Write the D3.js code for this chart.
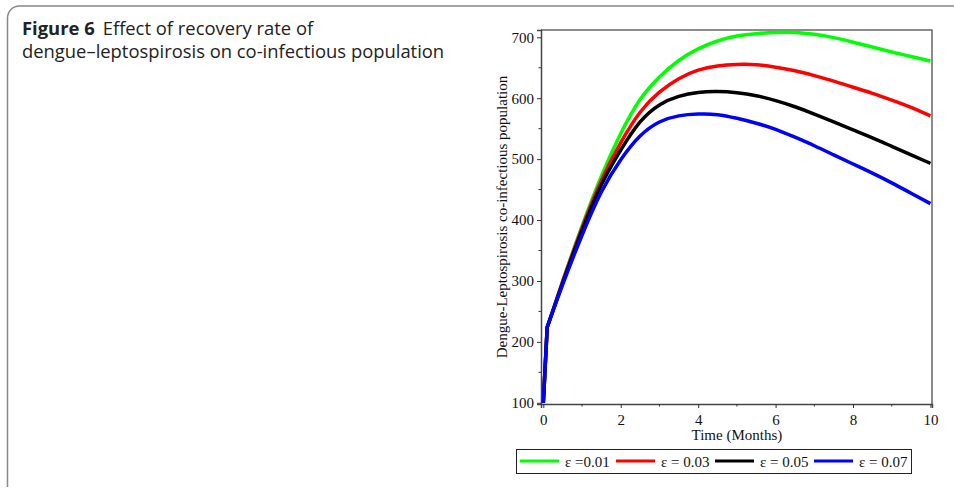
<!DOCTYPE html>
<html>
<head>
<meta charset="utf-8">
<script src="https://cdn.jsdelivr.net/npm/d3@7"></script>
<style>
  body { margin: 0; background: #fff; }
  svg { display: block; }
  .tick text { font-family: "Liberation Serif", "Times New Roman", serif; font-size: 15px; fill: #111; }
  .axisTitle { font-family: "Liberation Serif", "Times New Roman", serif; font-size: 15px; fill: #111; }
  .legendText { font-family: "Liberation Serif", "Times New Roman", serif; font-size: 15px; fill: #111; }
  .caption { font-family: "Open Sans", "Noto Sans", sans-serif; font-size: 18.4px; fill: #222; }
</style>
</head>
<body>
<script>
// time in months
var months = [0, 0.1, 0.5, 1, 1.5, 2, 2.5, 3, 3.5, 4, 4.5, 5, 5.5, 6, 6.5, 7, 7.5, 8, 8.5, 9, 9.5, 10];

// co-infectious population for each recovery rate
var eps001 = [100, 224, 300, 390, 472, 542, 598, 635, 662, 681, 694, 702, 706, 708, 708, 705, 699.5, 692, 684, 676, 668.5, 661];
var eps003 = [100, 224, 299, 387, 465, 527, 577, 610, 632, 646, 653, 655.5, 655, 651, 645, 637, 628, 618, 608, 597, 585, 571];
var eps005 = [100, 224, 297, 383, 458, 515, 561, 589, 603, 609.5, 611, 609, 604, 596, 586, 574, 561, 548, 535, 521, 507, 493];
var eps007 = [100, 224, 294, 375, 446, 499, 538, 561, 571, 574, 573, 567, 559, 549, 536, 522, 507, 492, 477, 461, 444, 427];

var seriesNames = ["\u03b5 =0.01", "\u03b5 = 0.03", "\u03b5 = 0.05", "\u03b5 = 0.07"];
var seriesValues = [eps001, eps003, eps005, eps007];
var seriesColors = ["#00ff00", "#ff0000", "#000000", "#0000ff"];

var xTicks = [0, 2, 4, 6, 8, 10];
var xMinor = [1, 3, 5, 7, 9];
var yTicks = [100, 200, 300, 400, 500, 600, 700];
var yMinor = [150, 250, 350, 450, 550, 650];

var width = 954, height = 490;
var plot = {left: 541, right: 932, top: 30, bottom: 404};

var svg = d3.select("body").append("svg")
    .attr("width", width).attr("height", height);

// outer caption frame
svg.append("path")
    .attr("d", "M7.5,487 L7.5,18 A12,12 0 0 1 19.5,6 L954,6")
    .attr("fill", "none")
    .attr("stroke", "#888")
    .attr("stroke-width", 1.5);

// caption
var cap1 = svg.append("text").attr("class", "caption").attr("x", 22).attr("y", 34.5);
cap1.append("tspan").attr("font-weight", "bold").text("Figure 6");
cap1.append("tspan").attr("dx", 8).text("Effect of recovery rate of");
svg.append("text").attr("class", "caption").attr("x", 22).attr("y", 57.5)
    .text("dengue\u2013leptospirosis on co-infectious population");

var x = d3.scaleLinear()
    .domain([-0.06, 10.04])
    .range([plot.left, plot.right]);

var y = d3.scaleLinear()
    .domain([98, 712])
    .range([plot.bottom, plot.top]);

// frame top and right
svg.append("path")
    .attr("d", "M" + plot.left + "," + plot.top + "H" + plot.right + "V" + plot.bottom)
    .attr("fill", "none")
    .attr("stroke", "#666")
    .attr("stroke-width", 1.5);

var xAxis = d3.axisBottom(x).tickValues(xTicks).tickSize(4).tickPadding(6).tickFormat(d3.format("d"));
var yAxis = d3.axisLeft(y).tickValues(yTicks).tickSize(4).tickPadding(3).tickFormat(d3.format("d"));

var gx = svg.append("g").attr("class", "x axis")
    .attr("transform", "translate(0," + plot.bottom + ")")
    .call(xAxis);
var gy = svg.append("g").attr("class", "y axis")
    .attr("transform", "translate(" + plot.left + ",0)")
    .call(yAxis);

[gx, gy].forEach(function(g){
    g.select(".domain").attr("stroke", "#444").attr("stroke-width", 1.5);
    g.selectAll(".tick line").attr("stroke", "#333");
});

// minor ticks
gx.selectAll(".minor").data(xMinor).enter().append("line")
    .attr("class", "minor")
    .attr("x1", function(d){ return x(d); }).attr("x2", function(d){ return x(d); })
    .attr("y1", 0).attr("y2", 2.5)
    .attr("stroke", "#333");
gy.selectAll(".minor").data(yMinor).enter().append("line")
    .attr("class", "minor")
    .attr("y1", function(d){ return y(d); }).attr("y2", function(d){ return y(d); })
    .attr("x1", 0).attr("x2", -2.5)
    .attr("stroke", "#333");

// curves: straight jump from t=0 to t=0.1, smooth afterwards
var line = d3.line()
    .x(function(d){ return x(d[0]); })
    .y(function(d){ return y(d[1]); })
    .curve(d3.curveNatural);

seriesValues.forEach(function(vals, i){
    var pts = months.map(function(m, j){ return [m, vals[j]]; });
    var smooth = line(pts.slice(1));
    var d = "M" + x(pts[0][0]) + "," + y(pts[0][1]) + "L" + smooth.slice(1);
    svg.append("path")
        .attr("d", d)
        .attr("fill", "none")
        .attr("stroke", seriesColors[i])
        .attr("stroke-width", 3.5)
        .attr("stroke-linejoin", "round");
});

// axis titles
svg.append("text")
    .attr("class", "axisTitle")
    .attr("x", (x(0) + x(10)) / 2)
    .attr("y", 439.5)
    .style("text-anchor", "middle")
    .text("Time (Months)");

svg.append("text")
    .attr("class", "axisTitle")
    .attr("transform", "translate(507," + ((plot.top + plot.bottom) / 2) + ") rotate(-90)")
    .style("text-anchor", "middle")
    .text("Dengue-Leptospirosis co-infectious population");

// legend
var legend = svg.append("g").attr("transform", "translate(516.5,449.5)");
legend.append("rect")
    .attr("width", 395).attr("height", 24)
    .attr("fill", "#fff")
    .attr("stroke", "#222")
    .attr("stroke-width", 1);

var legendX = [3.5, 99.5, 198.5, 297.5];
seriesNames.forEach(function(name, i){
    legend.append("line")
        .attr("x1", legendX[i]).attr("x2", legendX[i] + 39)
        .attr("y1", 11.5).attr("y2", 11.5)
        .attr("stroke", seriesColors[i])
        .attr("stroke-width", 3);
    legend.append("text")
        .attr("class", "legendText")
        .attr("x", legendX[i] + 45)
        .attr("y", 17.5)
        .text(name);
});
</script>
</body>
</html>
